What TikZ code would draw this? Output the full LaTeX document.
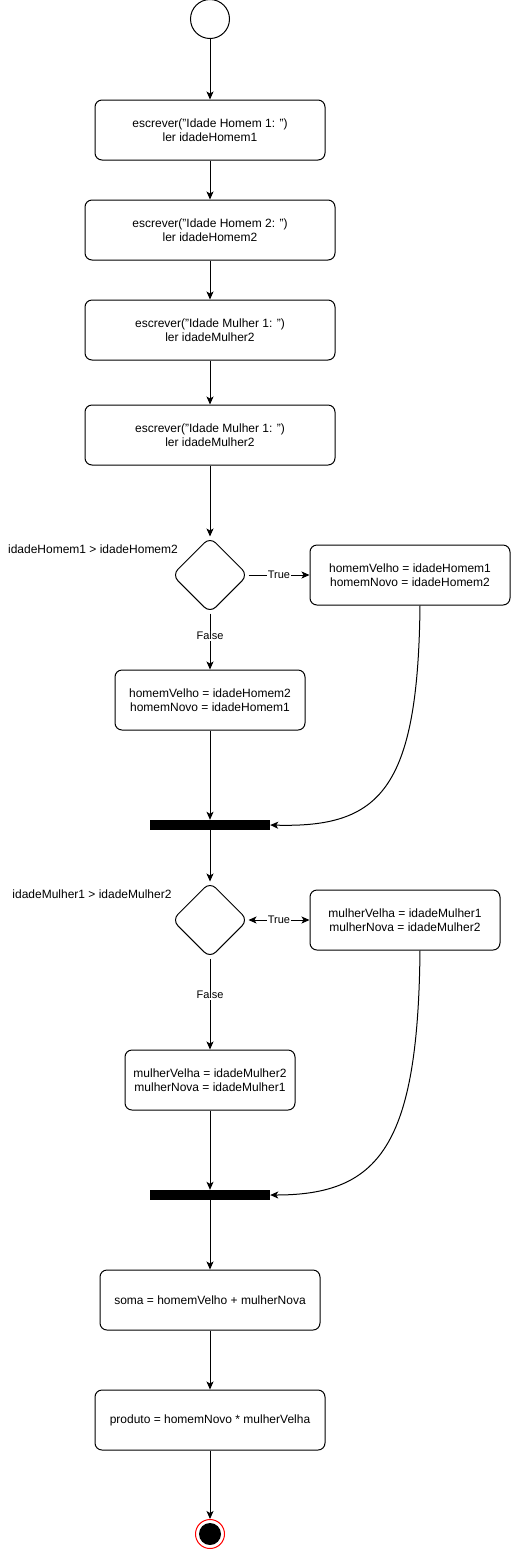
\documentclass[tikz,border=0pt]{standalone}
\usepackage{fontspec}
\setmainfont{Liberation Sans}
\usetikzlibrary{arrows.meta,shapes.geometric}

\tikzset{
   acao/.style={draw, rounded corners=7pt, align=center, line width=1pt, minimum height=60pt, inner sep=0pt, font=\fontsize{12}{14}\selectfont},
   decisao/.style={draw, diamond, rounded corners=8pt, minimum width=76pt, minimum height=76pt, line width=1pt},
   barra/.style={fill=black, minimum width=120pt, minimum height=10pt, inner sep=0pt},
   rotulo/.style={fill=white, inner sep=1pt, font=\fontsize{11}{13}\selectfont},
   cond/.style={inner sep=0pt, font=\fontsize{12}{14}\selectfont},
   fluxo/.style={-{Stealth[length=8pt,width=7pt,inset=2pt]}, line width=1pt},
   fluxoduplo/.style={{Stealth[length=8pt,width=7pt,inset=2pt]}-{Stealth[length=8pt,width=7pt,inset=2pt]}, line width=1pt}
}

\begin{document}
\begin{tikzpicture}[x=1pt, y=-1pt]
   \useasboundingbox (0,0) rectangle (511,1551);

   % inicio
   \node[draw, circle, line width=1pt, minimum size=39pt, inner sep=0pt] (inicio) at (210,19) {};

   % leituras
   \node[acao, minimum width=230pt] (escH1) at (210,130) {escrever("Idade Homem 1: ")\\ler idadeHomem1};
   \node[acao, minimum width=250pt] (escH2) at (210,230) {escrever("Idade Homem 2: ")\\ler idadeHomem2};
   \node[acao, minimum width=250pt] (escM1) at (210,330) {escrever("Idade Mulher 1: ")\\ler idadeMulher2};
   \node[acao, minimum width=250pt] (escM2) at (210,435) {escrever("Idade Mulher 1: ")\\ler idadeMulher2};

   % decisao homens
   \node[decisao] (decH) at (210,575) {};
   \node[cond] (condH) at (93,549) {idadeHomem1 > idadeHomem2};
   \node[acao, minimum width=200pt] (trueH) at (410,575) {homemVelho = idadeHomem1\\homemNovo = idadeHomem2};
   \node[acao, minimum width=190pt] (falseH) at (210,700) {homemVelho = idadeHomem2\\homemNovo = idadeHomem1};
   \node[barra] (joinH) at (210,825) {};

   % decisao mulheres
   \node[decisao] (decM) at (210,920) {};
   \node[cond] (condM) at (92,894) {idadeMulher1 > idadeMulher2};
   \node[acao, minimum width=190pt] (trueM) at (405,920) {mulherVelha = idadeMulher1\\mulherNova = idadeMulher2};
   \node[acao, minimum width=170pt] (falseM) at (210,1080) {mulherVelha = idadeMulher2\\mulherNova = idadeMulher1};
   \node[barra] (joinM) at (210,1195) {};

   % calculos
   \node[acao, minimum width=220pt] (soma) at (210,1300) {soma = homemVelho + mulherNova};
   \node[acao, minimum width=230pt] (produto) at (210,1420) {produto = homemNovo * mulherVelha};

   % fim
   \node[draw=red, circle, line width=1pt, fill=white, minimum size=29pt, inner sep=0pt] (fim) at (210,1534) {};
   \fill (fim) circle (11);

   % fluxo
   \draw[fluxo] (inicio) -- (escH1);
   \draw[fluxo] (escH1) -- (escH2);
   \draw[fluxo] (escH2) -- (escM1);
   \draw[fluxo] (escM1) -- (escM2);
   \draw[fluxo] (escM2) -- (decH);
   \draw[fluxo] (decH) -- (trueH) node[midway, rotulo] {True};
   \draw[fluxo] (decH) -- (falseH) node[pos=0.4, rotulo] {False};
   \draw[fluxo] (falseH) -- (joinH);
   \draw[fluxo] (trueH.south -| 420,0) .. controls (418,790) and (380,828) .. (joinH.east);
   \draw[fluxo] (joinH) -- (decM);
   \draw[fluxoduplo] (decM) -- (trueM) node[midway, rotulo] {True};
   \draw[fluxo] (decM) -- (falseM) node[pos=0.4, rotulo] {False};
   \draw[fluxo] (falseM) -- (joinM);
   \draw[fluxo] (trueM.south -| 420,0) .. controls (418,1145) and (380,1195) .. (joinM.east);
   \draw[fluxo] (joinM) -- (soma);
   \draw[fluxo] (soma) -- (produto);
   \draw[fluxo] (produto) -- (fim);
\end{tikzpicture}
\end{document}
